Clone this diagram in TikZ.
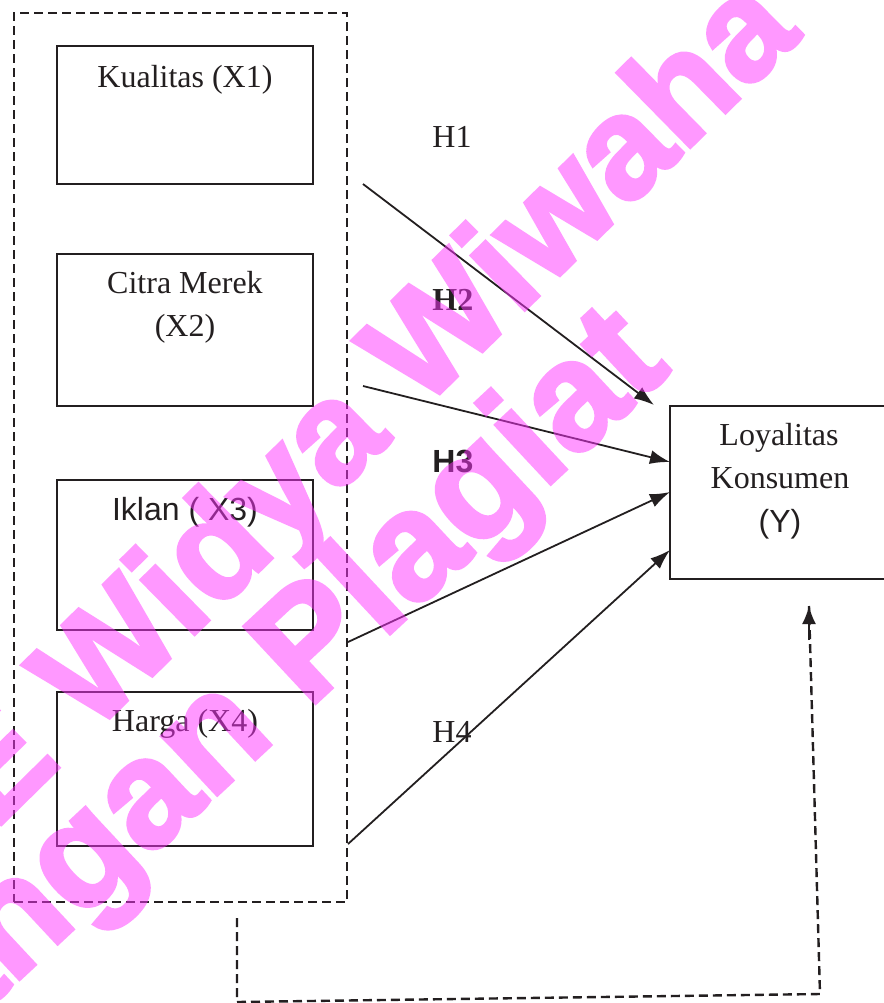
\documentclass[tikz,border=0pt]{standalone}
\usepackage{fontspec}
\setmainfont{Liberation Serif}
\setsansfont{Liberation Sans}
\newfontface\wmfont{Liberation Sans Bold}[FakeBold=2.5]
\usetikzlibrary{arrows.meta,fit}
\definecolor{wmpink}{RGB}{255,51,255}
\definecolor{ink}{RGB}{35,31,32}
\tikzset{
  box/.style={draw=ink, line width=1pt, inner sep=0pt},
  grpbox/.style={draw=ink, line width=1.2pt, inner sep=0pt, dash pattern=on 4.5pt off 2.5pt},
  lbl/.style={font=\fontsize{16}{19}\selectfont, text=ink, inner sep=0pt, anchor=base},
  slbl/.style={font=\sffamily\fontsize{16}{19}\selectfont, text=ink, inner sep=0pt, anchor=base},
  hlbl/.style={font=\fontsize{16}{19}\selectfont, text=ink, inner sep=0pt, anchor=base west},
  conn/.style={draw=ink, line width=0.9pt, -{Latex[length=10pt,width=7pt]}},
  dashline/.style={draw=ink, line width=1.2pt, dash pattern=on 4.5pt off 2.5pt},
  wm/.style={font=\wmfont\fontsize{76}{76}\selectfont, text=wmpink, rotate=43, anchor=base west, inner sep=0pt}
}
\begin{document}
\begin{tikzpicture}[x=0.5pt,y=-0.5pt]
\useasboundingbox (0,0) rectangle (884,1003);
\clip (0,0) rectangle (884,1003);
\fill[white] (0,0) rectangle (884,1003);

% group box
\node[grpbox, fit={(14,13)(347,902)}] (grp) {};

% independent variable boxes
\node[box, fit={(57,46)(313,184)}] (x1) {};
\node[box, fit={(57,254)(313,406)}] (x2) {};
\node[box, fit={(57,480)(313,630)}] (x3) {};
\node[box, fit={(57,692)(313,846)}] (x4) {};
\node[lbl] (x1t) at (185,87) {Kualitas (X1)};
\node[lbl] (x2t) at (185,293) {Citra Merek};
\node[lbl] (x2u) at (185,336) {(X2)};
\node[slbl] (x3t) at (185,520) {Iklan ( X3)};
\node[lbl] (x4t) at (185,731) {Harga (X4)};

% dependent variable box
\node[box, fit={(670,406)(900,579)}] (y) {};
\node[lbl] (yt1) at (779,445) {Loyalitas};
\node[lbl] (yt2) at (780,488) {Konsumen};
\node[slbl] (yt3) at (780,532) {(Y)};

% hypothesis labels
\node[hlbl] (h1) at (432,147) {H1};
\node[hlbl, font=\bfseries\fontsize{16}{19}\selectfont] (h2) at (432,310) {H2};
\node[hlbl, font=\sffamily\bfseries\fontsize{16}{19}\selectfont] (h3) at (432,472) {H3};
\node[hlbl] (h4) at (432,742) {H4};

% arrow endpoints
\coordinate (s1) at (363,184);
\coordinate (e1) at (654,405);
\coordinate (s2) at (363,386);
\coordinate (e2) at (670,462);
\coordinate (s3) at (348,642);
\coordinate (e3) at (670,492);
\coordinate (s4) at (348,844);
\coordinate (e4) at (670,550);
\draw[conn] (s1) -- (e1);
\draw[conn] (s2) -- (e2);
\draw[conn] (s3) -- (e3);
\draw[conn] (s4) -- (e4);

% feedback dashed line
\coordinate (f0) at (237,918);
\coordinate (f1) at (237,1002);
\coordinate (f2) at (820,994);
\coordinate (f3) at (809,606);
\draw[dashline] (f0) -- (f1) -- (f2) -- (f3);
\draw[draw=ink, line width=1pt, -{Latex[length=9pt,width=7pt]}] (809,640) -- (f3);

% watermark
\begin{scope}[transparency group, opacity=0.5]
\node[wm, rotate=1.5, font=\wmfont\fontsize{72}{72}\selectfont] (wm1) at (91,736) {\llap{STIE\ }Widya Wiwaha};
\node[wm] (wm2) at (308,710) {\llap{Jangan\ }Plagiat};
\end{scope}
\end{tikzpicture}
\end{document}
